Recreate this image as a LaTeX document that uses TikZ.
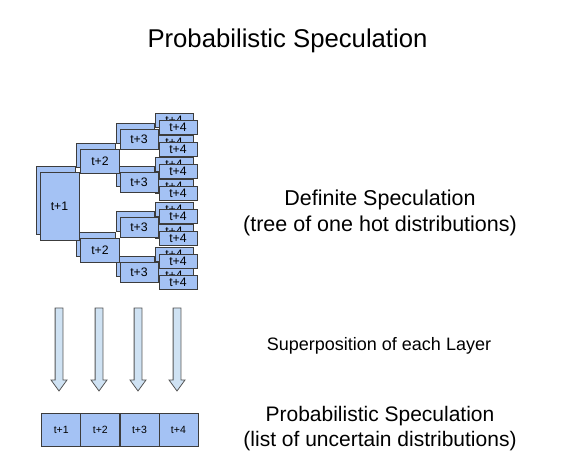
\documentclass[tikz,border=0pt]{standalone}
\usepackage{fontspec}
\setmainfont{Liberation Sans}
\definecolor{boxc}{HTML}{A4C2F4}
\definecolor{bordc}{HTML}{3C3C3C}
\definecolor{arrc}{HTML}{CFE2F3}
\definecolor{arrb}{HTML}{555555}
\begin{document}
\begin{tikzpicture}[x=1pt,y=-1pt,
  box/.style={draw=bordc, fill=boxc, line width=0.8pt, inner sep=0pt,
    font=\fontsize{12.3}{13}\selectfont},
  onebox/.style={box, minimum width=39pt, minimum height=68pt},
  twobox/.style={box, minimum width=39pt, minimum height=24pt},
  threebox/.style={box, minimum width=38pt, minimum height=20pt},
  fourbox/.style={box, minimum width=38pt, minimum height=14pt},
  listbox/.style={box, minimum width=39pt, minimum height=33pt,
    font=\fontsize{10.5}{12}\selectfont},
  blockarrow/.style={draw=arrb, fill=arrc, line width=0.8pt, line join=miter},
  bigtext/.style={align=center, font=\fontsize{21.5}{26}\selectfont}]
\useasboundingbox (0,0) rectangle (563,473);

\node[font=\fontsize{25.7}{28}\selectfont] (title) at (287.5,41) {Probabilistic Speculation};

% back copies (all drawn first)
\node[onebox] (b1) at (55.5,200) {};
\foreach \y [count=\i] in {161,250} \node[twobox] (b2\i) at (96,\y-6) {};
\foreach \y [count=\i] in {139,182.5,227,272} \node[threebox] (b3\i) at (135,\y-6) {};
\foreach \y [count=\i] in {127,149,171,193,216,238,261,282}
  \node[fourbox] (b4\i) at (174,\y-6.5) {t+4};

% front copies
\node[onebox] (f1) at (59.5,206) {t+1};
\foreach \y [count=\i] in {161,250} \node[twobox] (f2\i) at (100,\y) {t+2};
\foreach \y [count=\i] in {139,182.5,227,272} \node[threebox] (f3\i) at (139,\y) {t+3};
\foreach \y [count=\i] in {127,149,171,193,216,238,261,282}
  \node[fourbox] (f4\i) at (178,\y) {t+4};

\node[bigtext] (defn) at (380,213) {Definite Speculation\\(tree of one hot distributions)};

% block arrows
\foreach \x [count=\i] in {59,99,138,177} {
  \draw[blockarrow] (\x-3.9,308) -- (\x+3.9,308) -- (\x+3.9,380) -- (\x+8,380)
    -- (\x,391) -- (\x-8,380) -- (\x-3.9,380) -- cycle;
}
\node[font=\fontsize{18}{21}\selectfont] (sup) at (379,346) {Superposition of each Layer};

% list
\node[listbox] (l1) at (61.2,429.5) {t+1};
\node[listbox] (l2) at (100.3,429.5) {t+2};
\node[listbox] (l3) at (139.5,429.5) {t+3};
\node[listbox] (l4) at (178.4,429.5) {t+4};

\node[bigtext, font=\fontsize{21}{25}\selectfont] (prob) at (380,428.5) {Probabilistic Speculation\\(list of uncertain distributions)};
\end{tikzpicture}
\end{document}
